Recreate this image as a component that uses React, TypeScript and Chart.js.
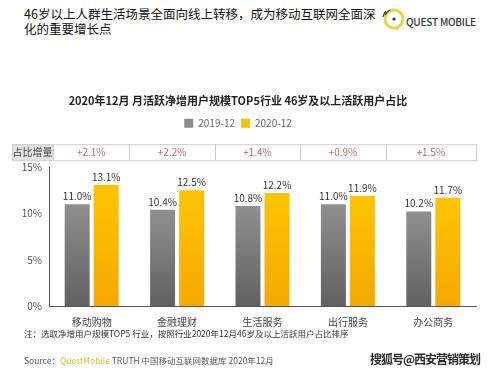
import React, { useEffect, useRef } from "react";
import { Chart, registerables } from "chart.js";

Chart.register(...registerables);

const categories = ["移动购物", "金融理财", "生活服务", "出行服务", "办公商务"];
const seriesNames = ["2019-12", "2020-12"];
const series2019 = [11.0, 10.4, 10.8, 11.0, 10.2];
const series2020 = [13.1, 12.5, 12.2, 11.9, 11.7];
const increments = ["+2.1%", "+2.2%", "+1.4%", "+0.9%", "+1.5%"];
const incrementLabel = "占比增量";
const yMax = 15;
const yStep = 5;

const chartTitle = "2020年12月 月活跃净增用户规模TOP5行业 46岁及以上活跃用户占比";
const headerLine1 = "46岁以上人群生活场景全面向线上转移，成为移动互联网全面深";
const headerLine2 = "化的重要增长点";
const noteText = "注：选取净增用户规模TOP5 行业，按照行业2020年12月46岁及以上活跃用户占比排序";

const FONT = '"Noto Sans CJK SC", "Noto Sans", sans-serif';
const GRAY_TOP = "#8f8f8f";
const GRAY_BOTTOM = "#616161";
const YEL_TOP = "#ffc400";
const YEL_BOTTOM = "#f5a800";

function barGradient(ctx: any, top: string, bottom: string) {
  const chart = ctx.chart;
  const area = chart.chartArea;
  if (!area || ctx.type !== "data") return top;
  const yScale = chart.scales.y;
  const yTop = yScale.getPixelForValue(ctx.raw);
  const g = chart.ctx.createLinearGradient(0, yTop, 0, area.bottom);
  g.addColorStop(0, top);
  g.addColorStop(1, bottom);
  return g;
}

const legendSpacer = {
  id: "legendSpacer",
  beforeInit(chart: any) {
    const l = chart.legend;
    if (!l) return;
    const orig = l.fit;
    l.fit = function () {
      orig.call(this);
      this.height += 29;
    };
  },
};

const valueLabels = {
  id: "valueLabels",
  afterDatasetsDraw(chart: any) {
    const { ctx } = chart;
    chart.data.datasets.forEach((ds: any, di: number) => {
      const meta = chart.getDatasetMeta(di);
      meta.data.forEach((bar: any, i: number) => {
        ctx.save();
        ctx.font = `10px ${FONT}`;
        ctx.fillStyle = "#333";
        ctx.textAlign = "center";
        ctx.textBaseline = "bottom";
        ctx.fillText(Number(ds.data[i]).toFixed(1) + "%", bar.x, bar.y - 3);
        ctx.restore();
      });
    });
  },
};

const incrementTable = {
  id: "incrementTable",
  afterDraw(chart: any) {
    const { ctx, chartArea: area } = chart;
    const xs = chart.scales.x;
    const top = area.top - 23;
    const h = 16;
    const labelLeft = 12;
    const labelRight = 53;
    const n = categories.length;
    const bounds = [labelRight];
    for (let i = 0; i < n - 1; i++) {
      bounds.push((xs.getPixelForValue(i) + xs.getPixelForValue(i + 1)) / 2 - 5);
    }
    bounds.push(area.right);
    ctx.save();
    ctx.fillStyle = "#e2e2e2";
    ctx.fillRect(labelLeft, top, labelRight - labelLeft, h);
    ctx.strokeStyle = "#cccccc";
    ctx.lineWidth = 1;
    ctx.strokeRect(labelLeft + 0.5, top + 0.5, area.right - labelLeft, h);
    bounds.forEach((b, i) => {
      if (i === bounds.length - 1) return;
      ctx.beginPath();
      ctx.moveTo(Math.round(b) + 0.5, top);
      ctx.lineTo(Math.round(b) + 0.5, top + h);
      ctx.stroke();
    });
    ctx.textBaseline = "middle";
    ctx.textAlign = "center";
    ctx.font = `10px ${FONT}`;
    ctx.fillStyle = "#444";
    ctx.fillText(incrementLabel, (labelLeft + labelRight) / 2, top + h / 2 + 0.5);
    ctx.fillStyle = "#c46a6a";
    increments.forEach((t, i) => {
      ctx.fillText(t, (bounds[i] + bounds[i + 1]) / 2, top + h / 2 + 0.5);
    });
    ctx.restore();
  },
};

function BarChart() {
  const ref = useRef<HTMLCanvasElement | null>(null);
  useEffect(() => {
    if (!ref.current) return;
    const chart = new Chart(ref.current, {
      type: "bar",
      data: {
        labels: categories,
        datasets: [
          {
            label: seriesNames[0],
            data: series2019,
            backgroundColor: (c: any) => barGradient(c, GRAY_TOP, GRAY_BOTTOM),
            categoryPercentage: 0.68,
            barPercentage: 0.86,
          },
          {
            label: seriesNames[1],
            data: series2020,
            backgroundColor: (c: any) => barGradient(c, YEL_TOP, YEL_BOTTOM),
            categoryPercentage: 0.68,
            barPercentage: 0.86,
          },
        ],
      },
      options: {
        responsive: false,
        animation: false,
        devicePixelRatio: 1,
        layout: { padding: { left: 0, right: 23, top: 0, bottom: 1 } },
        plugins: {
          title: {
            display: true,
            text: chartTitle,
            color: "#222",
            font: { family: FONT, size: 11, weight: "bold" },
            padding: { top: 9, bottom: 5 },
          },
          legend: {
            display: true,
            labels: {
              boxWidth: 9,
              boxHeight: 9,
              padding: 6,
              color: "#666",
              font: { family: FONT, size: 10 },
              generateLabels: () =>
                seriesNames.map((name, i) => ({
                  text: name,
                  fillStyle: i === 0 ? "#8a8a8a" : "#ffc000",
                  strokeStyle: "transparent",
                  lineWidth: 0,
                  datasetIndex: i,
                  fontColor: "#666",
                })),
            },
          },
          tooltip: { enabled: false },
        },
        scales: {
          x: {
            grid: { display: false, drawTicks: false },
            border: { display: true, color: "#555", width: 1 },
            ticks: { color: "#444", font: { family: FONT, size: 10 }, padding: 10 },
          },
          y: {
            min: 0,
            max: yMax,
            grid: { display: false, drawTicks: false },
            border: { display: true, color: "#555", width: 1 },
            ticks: {
              stepSize: yStep,
              color: "#555",
              padding: 7,
              font: { family: FONT, size: 10 },
              callback: (v: any) => v + "%",
            },
            afterFit: (s: any) => {
              s.width = 49;
            },
          },
        },
      },
      plugins: [legendSpacer, valueLabels, incrementTable],
    } as any);
    return () => chart.destroy();
  }, []);
  return (
    <canvas
      ref={ref}
      width={499}
      height={254}
      style={{ position: "absolute", left: 0, top: 85, width: 499, height: 254 }}
    />
  );
}

export default function App() {
  return (
    <div
      style={{
        position: "absolute",
        left: 0,
        top: 0,
        width: 499,
        height: 375,
        overflow: "hidden",
        background: "#fff",
        fontFamily: FONT,
      }}
    >
      <div
        style={{
          position: "absolute",
          left: 24,
          top: 6,
          fontSize: 12.5,
          lineHeight: "15px",
          color: "#111",
          whiteSpace: "nowrap",
        }}
      >
        {headerLine1}
        <br />
        {headerLine2}
      </div>
      <svg
        width={24}
        height={26}
        style={{ position: "absolute", left: 381, top: 6 }}
        viewBox="0 0 24 26"
      >
        <circle cx={13} cy={13} r={9} fill="none" stroke="#f0d24a" strokeWidth={3} />
        <path d="M13 22 L17 25 L18 20" fill="#f0d24a" />
        <circle cx={13} cy={13} r={1.6} fill="#333" />
        <path d="M4 9 A10 10 0 0 1 9 4" fill="none" stroke="#333" strokeWidth={1.2} />
        <path d="M2 11 A12 12 0 0 1 5 5" fill="none" stroke="#333" strokeWidth={1.2} />
      </svg>
      <div
        style={{
          position: "absolute",
          left: 406,
          top: 14,
          fontSize: 10,
          fontWeight: 500,
          color: "#333",
          letterSpacing: -0.2,
          whiteSpace: "nowrap",
        }}
      >
        QUEST MOBILE
      </div>
      <BarChart />
      <div
        style={{
          position: "absolute",
          left: 24,
          top: 327,
          fontSize: 8.5,
          color: "#333",
          whiteSpace: "nowrap",
        }}
      >
        {noteText}
      </div>
      <div
        style={{
          position: "absolute",
          left: 24,
          top: 354,
          fontSize: 8.5,
          color: "#555",
          whiteSpace: "nowrap",
        }}
      >
        Source：<span style={{ color: "#e9b82a" }}>QuestMobile</span> TRUTH 中国移动互联网数据库 2020年12月
      </div>
      <div
        style={{
          position: "absolute",
          left: 370,
          top: 350,
          fontSize: 12,
          fontWeight: 700,
          color: "#2a2a2a",
          letterSpacing: -1,
          whiteSpace: "nowrap",
          textShadow: "0 0 1px #fff, 0 0 1px #fff",
        }}
      >
        搜狐号@西安营销策划
      </div>
    </div>
  );
}
